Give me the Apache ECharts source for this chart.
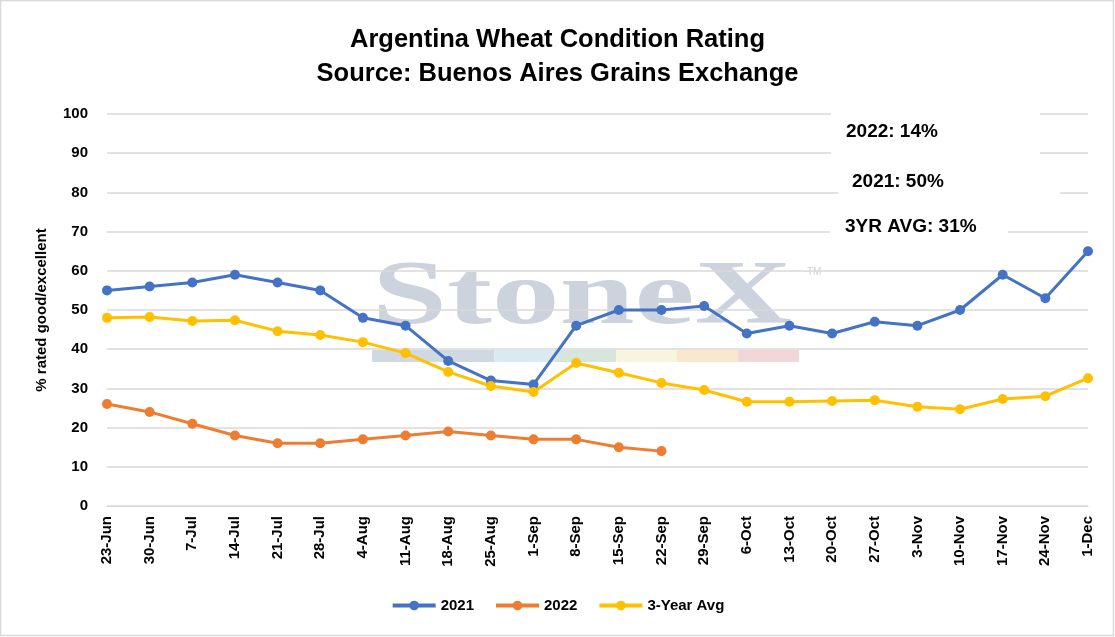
<!DOCTYPE html>
<html style="height: 100%; margin: 0">
<head>
<meta charset="UTF-8">
<title>Argentina Wheat Condition Rating</title>
</head>
<body style="height: 100%; margin: 0">
<div id="container" style="height:100%"></div>
<script type="text/javascript" src="https://cdn.jsdelivr.net/npm/echarts@6/dist/echarts.min.js"></script>
<script type="text/javascript">
	var weeks = ['23-Jun','30-Jun','7-Jul','14-Jul','21-Jul','28-Jul','4-Aug','11-Aug','18-Aug','25-Aug',
		'1-Sep','8-Sep','15-Sep','22-Sep','29-Sep','6-Oct','13-Oct','20-Oct','27-Oct','3-Nov',
		'10-Nov','17-Nov','24-Nov','1-Dec'];
	var y2021 = [55, 56, 57, 59, 57, 55, 48, 46, 37, 32, 31, 46, 50, 50, 51, 44, 46, 44, 47, 46, 50, 59, 53, 65];
	var y2022 = [26, 24, 21, 18, 16, 16, 17, 18, 19, 18, 17, 17, 15, 14];
	var avg3 = [48, 48.2, 47.2, 47.4, 44.6, 43.6, 41.8, 39, 34.2, 30.6, 29.1, 36.5, 34, 31.4,
		29.6, 26.6, 26.6, 26.8, 27, 25.3, 24.7, 27.3, 28, 32.6];
	var notes = ['2022: 14%', '2021: 50%', '3YR AVG: 31%'];

	var font = 'Liberation Sans';
	var dom = document.getElementById("container");
	var myChart = echarts.init(dom);

	function lineSeries(name, color, data) {
		return {
			name: name,
			type: 'line',
			data: data,
			symbol: 'circle',
			symbolSize: 10,
			lineStyle: { color: color, width: 3 },
			itemStyle: { color: color },
			z: 5
		};
	}

	// StoneX watermark colour strip
	var stripColors = ['#d0d8e1', '#d0d8e1', '#dbe9f3', '#d6e6dc', '#f7f5de', '#f9e7d0', '#f2d6d8'];
	var strip = stripColors.map(function (c, i) {
		return {
			type: 'rect', z: -1,
			shape: { x: 372 + i * 61, y: 350, width: 61, height: 12 },
			style: { fill: c }
		};
	});

	var option = {
		backgroundColor: '#fff',
		animation: false,
		title: {
			text: 'Argentina Wheat Condition Rating\nSource: Buenos Aires Grains Exchange',
			left: 'center',
			top: 18,
			textStyle: { fontFamily: font, fontSize: 25.5, fontWeight: 'bold', color: '#000', lineHeight: 34 }
		},
		legend: {
			bottom: 19,
			left: 'center',
			itemGap: 20,
			itemWidth: 43,
			itemHeight: 12,
			lineStyle: { width: 4 },
			textStyle: { fontFamily: font, fontSize: 15, fontWeight: 'bold', color: '#000' },
			data: ['2021', '2022', '3-Year Avg']
		},
		grid: { left: 107, right: 27, top: 114, bottom: 131 },
		xAxis: {
			type: 'category',
			boundaryGap: false,
			data: weeks,
			axisLine: { lineStyle: { color: '#d9d9d9' } },
			axisTick: { show: false },
			axisLabel: { rotate: 90, interval: 0, fontFamily: font, fontSize: 15, fontWeight: 'bold', color: '#000', margin: 10 }
		},
		yAxis: {
			type: 'value',
			min: 0, max: 100, interval: 10,
			name: '% rated good/excellent',
			nameLocation: 'middle',
			nameGap: 58,
			nameTextStyle: { fontFamily: font, fontSize: 15, fontWeight: 'bold', color: '#000' },
			axisLine: { show: false },
			axisTick: { show: false },
			splitLine: { lineStyle: { color: '#d9d9d9', width: 1.5 } },
			axisLabel: { fontFamily: font, fontSize: 15, fontWeight: 'bold', color: '#000', margin: 19 }
		},
		graphic: [
			{ type: 'rect', z: -2, shape: { x: 0.5, y: 0.5, width: 1113, height: 635 },
				style: { fill: 'none', stroke: '#d9d9d9', lineWidth: 1.5 } },
			{ type: 'text', z: -1, x: 372, y: 255, scaleX: 1.5,
				style: { text: 'StoneX', font: 'bold 90px "Liberation Serif"', fill: '#ccd3dc' } },
			{ type: 'text', z: -1, left: 807, top: 267,
				style: { text: 'TM', font: '10px "Liberation Sans"', fill: '#ccd3dc' } }
		].concat(strip).concat([
			{ type: 'rect', z: 1, shape: { x: 831, y: 108, width: 209, height: 48 }, style: { fill: '#fff' } },
			{ type: 'rect', z: 1, shape: { x: 838, y: 160, width: 222, height: 40 }, style: { fill: '#fff' } },
			{ type: 'rect', z: 1, shape: { x: 830, y: 210, width: 178, height: 30 }, style: { fill: '#fff' } },
			{ type: 'text', z: 2, left: 846, top: 122,
				style: { text: notes[0], font: 'bold 19px "Liberation Sans"', fill: '#000' } },
			{ type: 'text', z: 2, left: 852, top: 172,
				style: { text: notes[1], font: 'bold 19px "Liberation Sans"', fill: '#000' } },
			{ type: 'text', z: 2, left: 845, top: 217,
				style: { text: notes[2], font: 'bold 19px "Liberation Sans"', fill: '#000' } }
		]),
		series: [
			lineSeries('2021', '#4472c4', y2021),
			lineSeries('2022', '#ed7d31', y2022),
			lineSeries('3-Year Avg', '#ffc000', avg3)
		]
	};
	myChart.setOption(option, true);
</script>
</body>
</html>
